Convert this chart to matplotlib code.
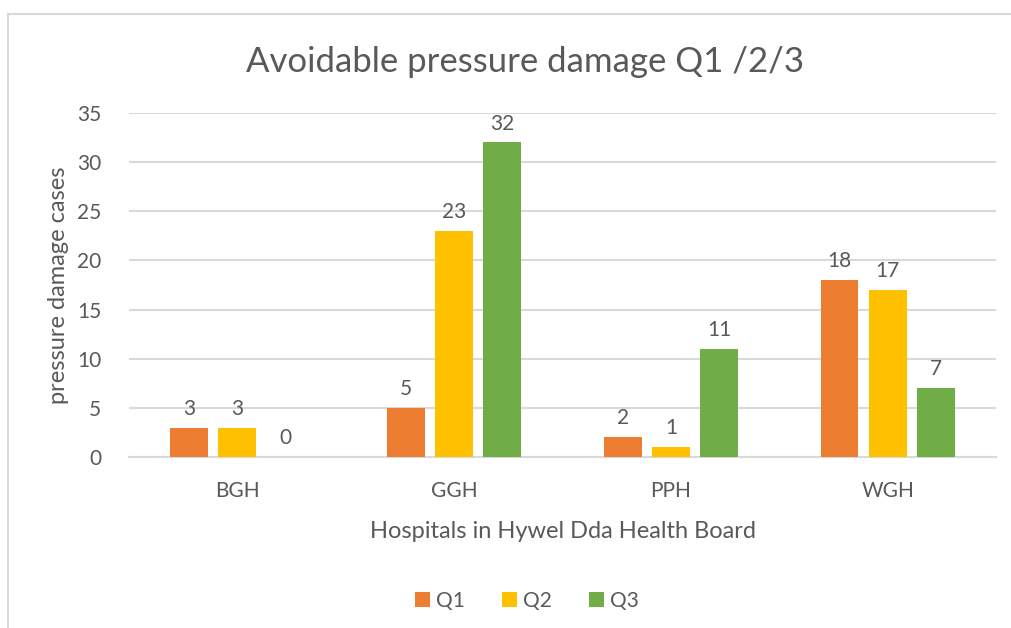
#! /usr/bin/env python
"""Avoidable pressure damage by hospital, clustered bar chart."""

import matplotlib.pyplot as plt
import numpy as np
from matplotlib.patches import Rectangle

hospitals = ["BGH", "GGH", "PPH", "WGH"]
quarters = ["Q1", "Q2", "Q3"]
q1 = [3, 5, 2, 18]
q2 = [3, 23, 1, 17]
q3 = [0, 32, 11, 7]

colors = ["#ED7D31", "#FFC000", "#70AD47"]
text_color = "#595959"
grid_color = "#D9D9D9"

plt.rcParams["font.family"] = ["Lato", "DejaVu Sans"]

W, H = 1011, 628
fig = plt.figure(figsize=(W / 100, H / 100), dpi=100)

# Plot area in pixels: x 129..996, y 113..457
ax = fig.add_axes([129 / W, 1 - 457 / H, (996 - 129) / W, (457 - 113) / H])

# Chart border (runs off right and bottom)
fig.patches.append(Rectangle((8 / W, -0.1), 1.2, 1 - 14 / H + 0.1,
                             transform=fig.transFigure, fill=False,
                             edgecolor=grid_color, linewidth=1.5))

x = np.arange(len(hospitals))
bar_w = 0.175
step = 0.222
for i, (name, vals) in enumerate(zip(quarters, [q1, q2, q3])):
    pos = x + (i - 1) * step
    ax.bar(pos, vals, width=bar_w, color=colors[i], label=name, zorder=3)
    for p, v in zip(pos, vals):
        ax.text(p, v + 0.9, str(v), ha="center", va="bottom",
                fontsize=15, color=text_color)

ax.set_xlim(-0.5, len(hospitals) - 0.5)
ax.set_ylim(0, 35)
ax.set_yticks(range(0, 36, 5))
ax.set_xticks(x)
ax.set_xticklabels(hospitals)
ax.yaxis.grid(True, color=grid_color, linewidth=1.5, zorder=0)
for s in ["top", "right", "left"]:
    ax.spines[s].set_visible(False)
ax.spines["bottom"].set_color(grid_color)
ax.spines["bottom"].set_linewidth(1.5)
ax.tick_params(axis="both", length=0, labelsize=15, colors=text_color)
ax.tick_params(axis="x", pad=17)
ax.tick_params(axis="y", pad=20)

ax.set_xlabel("Hospitals in Hywel Dda Health Board", fontsize=17,
              color=text_color, labelpad=15)
ax.set_ylabel("pressure damage cases", fontsize=17, color=text_color,
              labelpad=6)

fig.text(525 / W, 1 - 62 / H, "Avoidable pressure damage Q1 /2/3",
         ha="center", va="center", fontsize=25, color=text_color)

fig.legend(loc="center", bbox_to_anchor=(527 / W, 1 - 601 / H), ncol=3,
           frameon=False, fontsize=15, labelcolor=text_color,
           handlelength=0.7, handleheight=0.7, handletextpad=0.3,
           columnspacing=1.8)

fig.savefig("out.png", dpi=100, facecolor="white")
